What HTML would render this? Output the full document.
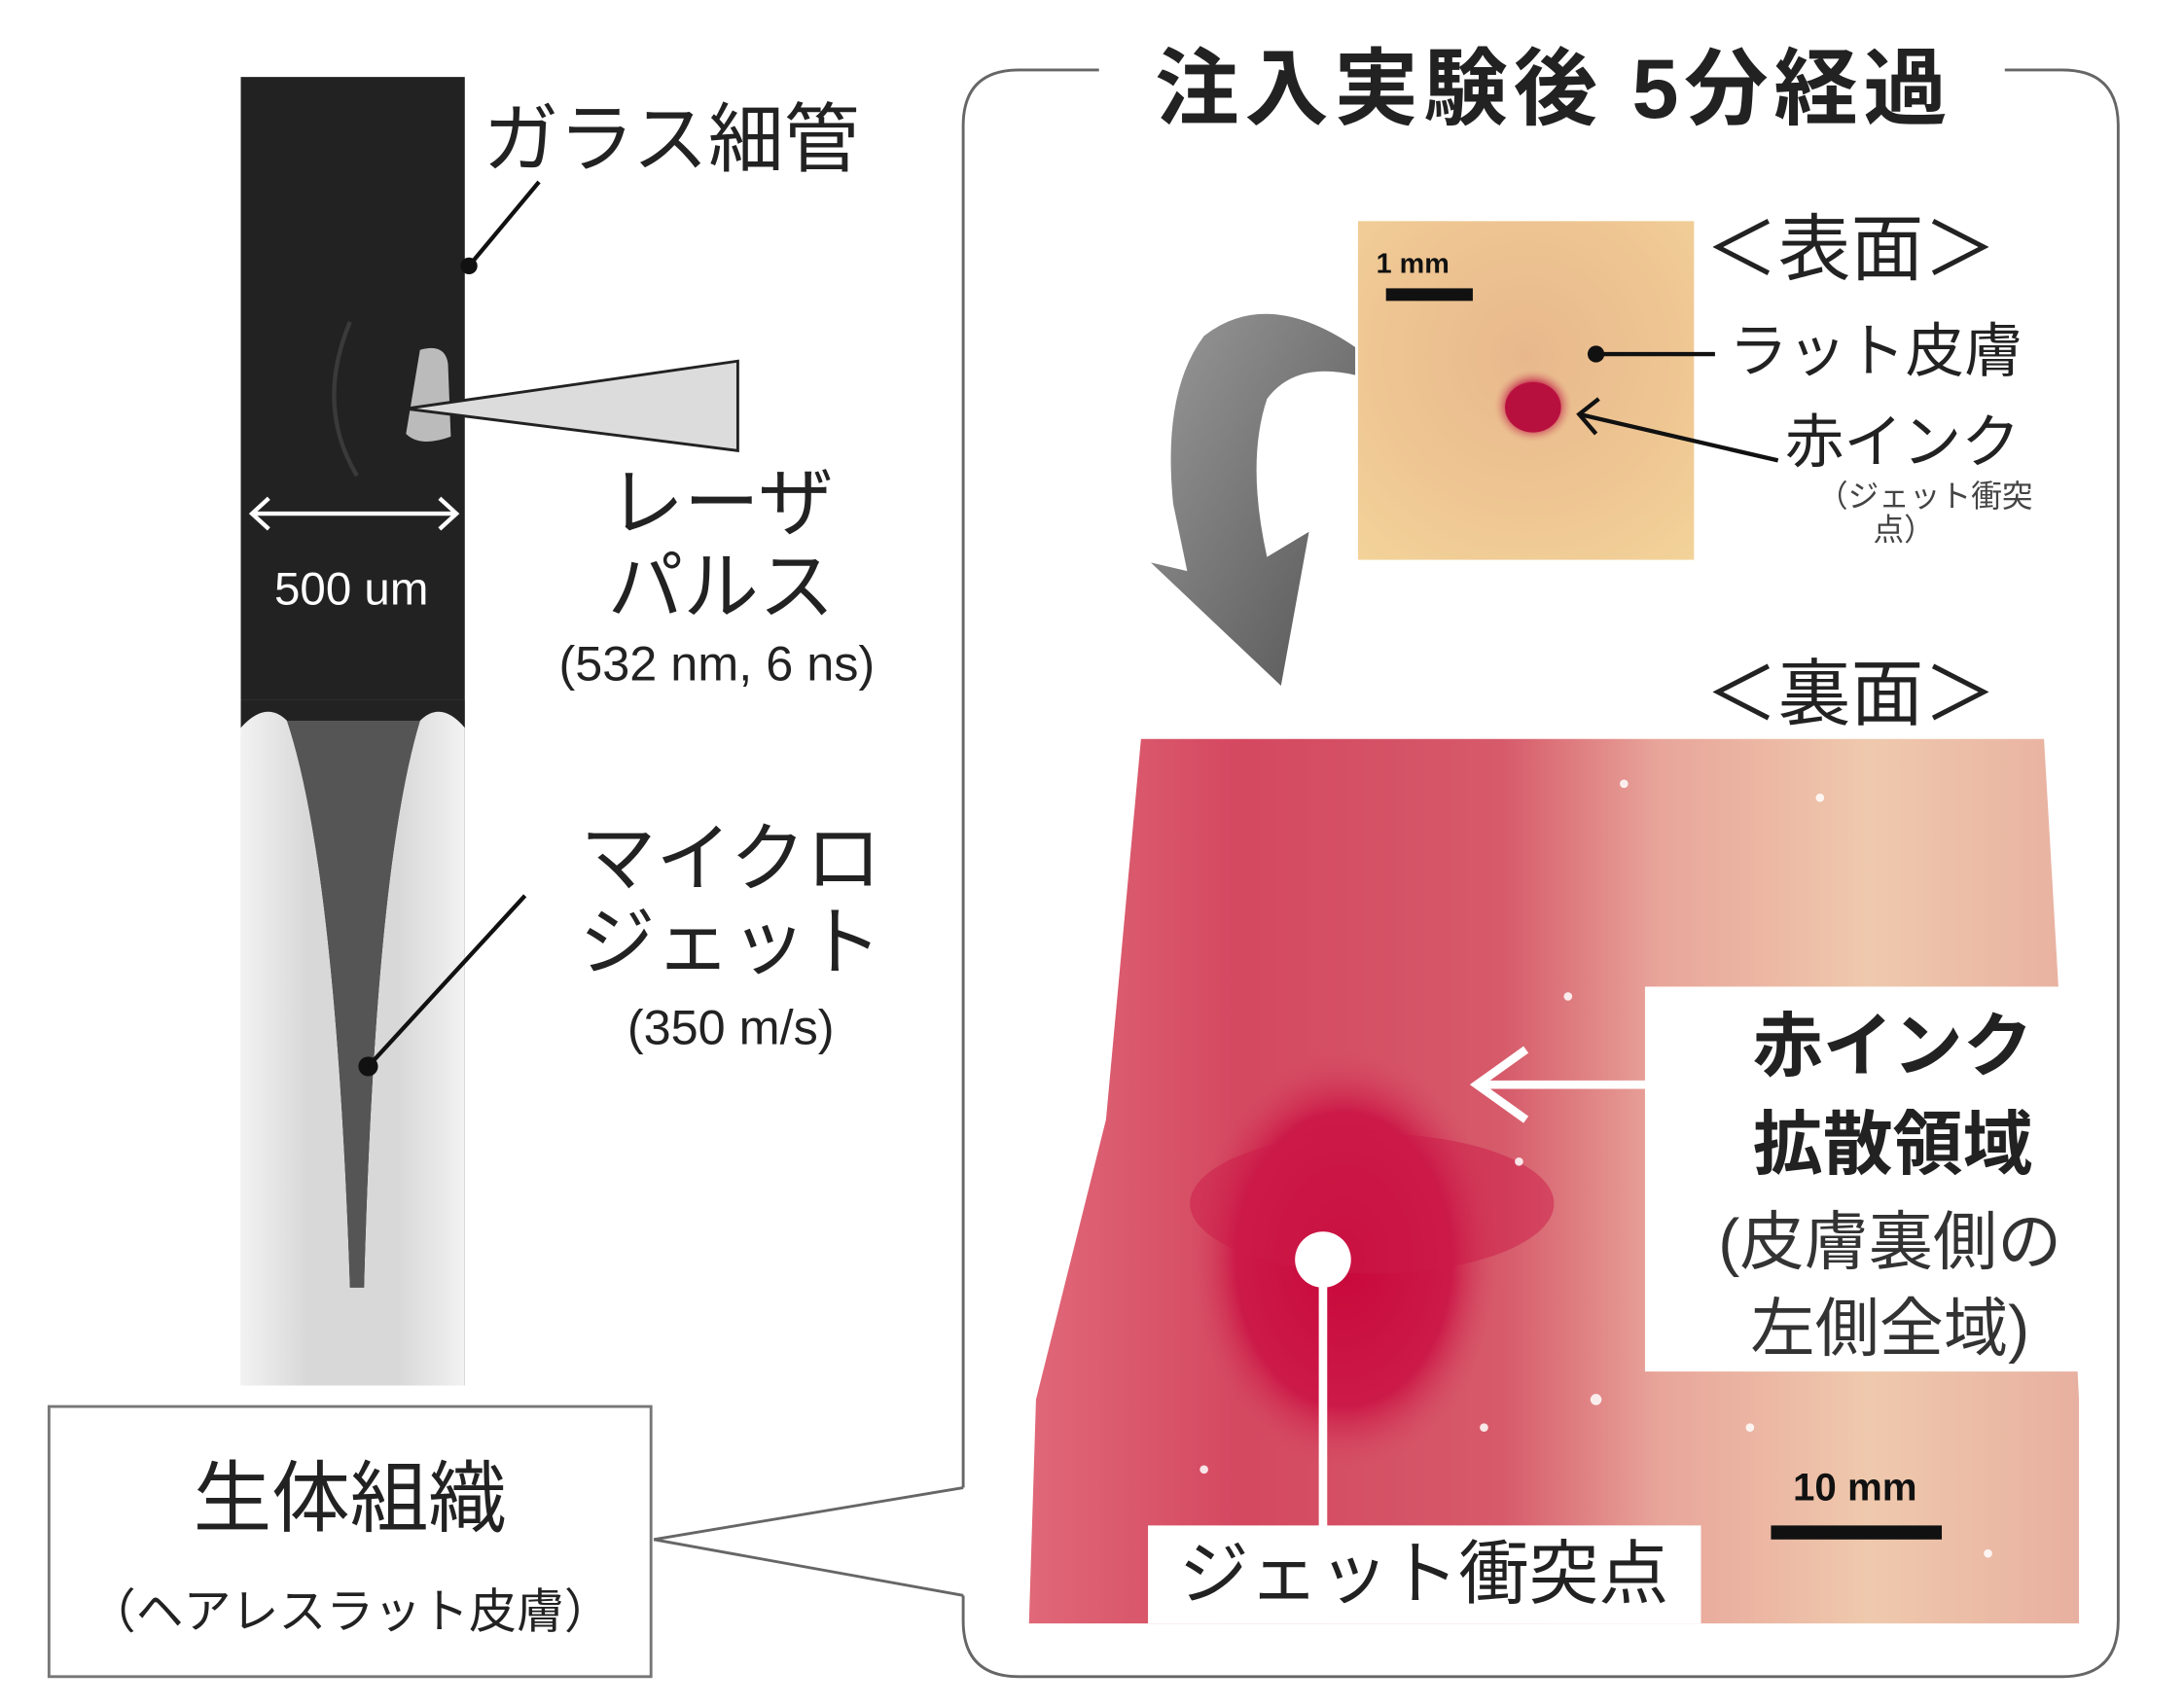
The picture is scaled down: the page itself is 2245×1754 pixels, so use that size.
<!DOCTYPE html>
<html><head><meta charset="utf-8"><style>
html,body{margin:0;padding:0;background:#fff;}
svg{display:block;}
text{font-family:"Liberation Sans","Noto Sans CJK JP",sans-serif;}
</style></head><body>
<svg width="2245" height="1754" viewBox="0 0 1560 1219" preserveAspectRatio="none" xmlns="http://www.w3.org/2000/svg">
<defs>
<linearGradient id="tube" x1="0" y1="0" x2="1" y2="0">
<stop offset="0" stop-color="#f2f2f2"/><stop offset="0.3" stop-color="#d8d8d8"/><stop offset="0.7" stop-color="#d8d8d8"/><stop offset="1" stop-color="#f2f2f2"/></linearGradient>
<radialGradient id="skin" cx="0.5" cy="0.4" r="0.8">
<stop offset="0" stop-color="#e8b88c"/><stop offset="0.6" stop-color="#efc793"/><stop offset="1" stop-color="#f3d49a"/></radialGradient>
<radialGradient id="dot" cx="0.5" cy="0.5" r="0.5">
<stop offset="0" stop-color="#b0103a"/><stop offset="0.6" stop-color="#c01a45"/><stop offset="1" stop-color="#e0a080" stop-opacity="0"/></radialGradient>
<linearGradient id="back" x1="0" y1="0" x2="1" y2="0">
<stop offset="0" stop-color="#e06878"/><stop offset="0.2" stop-color="#d44860"/><stop offset="0.45" stop-color="#d65a6a"/><stop offset="0.6" stop-color="#e8a59a"/><stop offset="0.8" stop-color="#efc9ad"/><stop offset="1" stop-color="#e8b0a0"/></linearGradient>
<radialGradient id="blot" cx="0.5" cy="0.5" r="0.5">
<stop offset="0" stop-color="#c8083a"/><stop offset="0.7" stop-color="#cc1a48"/><stop offset="1" stop-color="#d44860" stop-opacity="0"/></radialGradient>
<linearGradient id="arr" x1="0" y1="0" x2="1" y2="1">
<stop offset="0" stop-color="#999"/><stop offset="1" stop-color="#555"/></linearGradient>
</defs>

<rect x="172" y="55" width="160" height="935" fill="#222"/>
<rect x="172" y="500" width="160" height="490" fill="url(#tube)"/>
<path d="M172 500 L172 520 Q190 500 205 515 Q240 620 250 920 L260 920 Q268 620 300 515 Q315 500 332 520 L332 500 Z" fill="#222"/>
<path d="M205 515 Q240 620 250 920 L260 920 Q268 620 300 515 Z" fill="#555"/>
<path d="M300 250 Q318 245 320 260 L322 312 Q300 320 290 310 Z" fill="#bbb"/>
<path d="M250 230 Q225 290 255 340" stroke="#3a3a3a" stroke-width="3" fill="none"/>
<polygon points="290,292 527,258 527,322" fill="#dcdcdc" stroke="#222" stroke-width="2"/>
<line x1="180" y1="367" x2="326" y2="367" stroke="#fff" stroke-width="3"/>
<polyline points="192,356 180,367 192,378" stroke="#fff" stroke-width="3" fill="none"/>
<polyline points="314,356 326,367 314,378" stroke="#fff" stroke-width="3" fill="none"/>
<text x="251" y="432" fill="#fff" font-size="33" text-anchor="middle">500 um</text>

<text x="345" y="118" font-size="54" fill="#222">ガラス細管</text>
<line x1="385" y1="130" x2="335" y2="190" stroke="#111" stroke-width="3"/>
<circle cx="335" cy="190" r="6" fill="#111"/>
<text x="515" y="378" font-size="54" fill="#222" text-anchor="middle">レーザ</text>
<text x="515" y="438" font-size="54" fill="#222" text-anchor="middle">パルス</text>
<text x="512" y="486" font-size="35" fill="#222" text-anchor="middle">(532 nm, 6 ns)</text>
<text x="522" y="632" font-size="54" fill="#222" text-anchor="middle">マイクロ</text>
<text x="522" y="692" font-size="54" fill="#222" text-anchor="middle">ジェット</text>
<text x="522" y="746" font-size="35" fill="#222" text-anchor="middle">(350 m/s)</text>
<line x1="375" y1="640" x2="263" y2="762" stroke="#111" stroke-width="3"/>
<circle cx="263" cy="762" r="7" fill="#111"/>

<rect x="35" y="1005" width="430" height="193" fill="#fff" stroke="#777" stroke-width="2"/>
<text x="250" y="1090" font-size="56" fill="#222" text-anchor="middle">生体組織</text>
<text x="250" y="1163" font-size="34" fill="#222" text-anchor="middle">（ヘアレスラット皮膚）</text>
<line x1="467" y1="1100" x2="688" y2="1063" stroke="#666" stroke-width="2"/>
<line x1="467" y1="1100" x2="688" y2="1140" stroke="#666" stroke-width="2"/>

<path d="M785 50 L728 50 Q688 50 688 90 L688 1063 M688 1140 L688 1158 Q688 1198 728 1198 L1473 1198 Q1513 1198 1513 1158 L1513 90 Q1513 50 1473 50 L1432 50" stroke="#666" stroke-width="2" fill="none"/>
<text x="1110" y="84" font-size="60" font-weight="bold" fill="#222" text-anchor="middle" letter-spacing="4">注入実験後 5分経過</text>

<rect x="970" y="158" width="240" height="242" fill="url(#skin)"/>
<ellipse cx="1095" cy="290" rx="28" ry="26" fill="url(#dot)"/>
<ellipse cx="1095" cy="291" rx="20" ry="18" fill="#b8103e"/>
<text x="983" y="195" font-size="20" font-weight="bold" fill="#111">1 mm</text>
<rect x="990" y="206" width="62" height="9" fill="#111"/>
<circle cx="1140" cy="253" r="6" fill="#111"/>
<line x1="1140" y1="253" x2="1225" y2="253" stroke="#111" stroke-width="3"/>
<line x1="1128" y1="296" x2="1270" y2="329" stroke="#111" stroke-width="3"/>
<polyline points="1142,285 1128,296 1140,310" stroke="#111" stroke-width="3" fill="none"/>
<text x="1322" y="196" font-size="52" fill="#222" text-anchor="middle">＜表面＞</text>
<text x="1235" y="265" font-size="42" fill="#222">ラット皮膚</text>
<text x="1275" y="330" font-size="42" fill="#222">赤インク</text>
<text x="1375" y="362" font-size="22" fill="#444" text-anchor="middle">（ジェット衝突</text>
<text x="1360" y="386" font-size="22" fill="#444" text-anchor="middle">点）</text>

<path d="M968 248 Q905 205 860 240 Q830 280 838 360 L848 408 L822 402 L915 490 L935 380 L905 398 Q890 330 905 285 Q925 258 968 268 Z" fill="url(#arr)"/>

<text x="1322" y="514" font-size="52" fill="#222" text-anchor="middle">＜裏面＞</text>

<path d="M815 528 L1460 528 L1470 700 L1485 1000 L1485 1160 L735 1160 L740 1000 L790 800 Z" fill="url(#back)"/>
<ellipse cx="960" cy="900" rx="110" ry="150" fill="url(#blot)"/>
<ellipse cx="980" cy="860" rx="130" ry="50" fill="#cc1a48" opacity="0.5"/>
<g fill="#fff" opacity="0.85">
<circle cx="1120" cy="712" r="3"/><circle cx="1085" cy="830" r="3"/><circle cx="1060" cy="1020" r="3"/>
<circle cx="1140" cy="1000" r="4"/><circle cx="1300" cy="570" r="3"/><circle cx="1160" cy="560" r="3"/>
<circle cx="860" cy="1050" r="3"/><circle cx="1420" cy="1110" r="3"/><circle cx="1250" cy="1020" r="3"/>
</g>
<rect x="1175" y="705" width="310" height="275" fill="#fff"/>
<text x="1352" y="765" font-size="50" font-weight="bold" fill="#222" text-anchor="middle">赤インク</text>
<text x="1352" y="835" font-size="50" font-weight="bold" fill="#222" text-anchor="middle">拡散領域</text>
<text x="1350" y="903" font-size="46" fill="#333" text-anchor="middle">(皮膚裏側の</text>
<text x="1350" y="965" font-size="46" fill="#333" text-anchor="middle">左側全域)</text>
<line x1="1175" y1="775" x2="1055" y2="775" stroke="#fff" stroke-width="6"/>
<polyline points="1090,750 1055,775 1090,800" stroke="#fff" stroke-width="6" fill="none"/>
<circle cx="945" cy="900" r="20" fill="#fff"/>
<line x1="945" y1="900" x2="945" y2="1092" stroke="#fff" stroke-width="6"/>
<rect x="820" y="1090" width="395" height="70" fill="#fff"/>
<text x="1017" y="1142" font-size="50" fill="#222" text-anchor="middle">ジェット衝突点</text>
<text x="1325" y="1072" font-size="28" font-weight="bold" fill="#111" text-anchor="middle">10 mm</text>
<rect x="1265" y="1090" width="122" height="10" fill="#111"/>
</svg>
</body></html>
